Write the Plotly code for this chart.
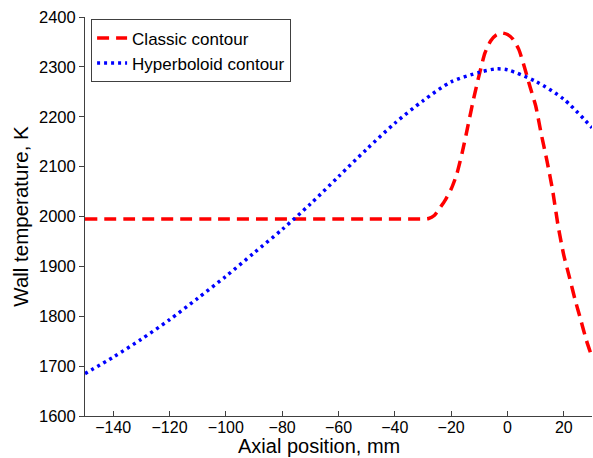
import plotly.graph_objects as go

# Classic contour data
classic_x = [-150, -100, -50, -30, -28, -26, -24, -22, -20, -18, -16, -14, -12, -10, -8, -6, -4, -2,
             0, 2, 4, 6, 8, 10, 12, 14, 16, 18, 20, 22, 24, 26, 28, 30]
classic_t = [1995, 1995, 1995, 1995, 1996, 2002, 2017, 2034, 2055, 2085, 2130, 2183, 2237, 2285, 2328, 2352, 2364, 2368,
             2365, 2355, 2335, 2300, 2260, 2222, 2165, 2112, 2053, 1980, 1922, 1878, 1833, 1793, 1752, 1718]

# Hyperboloid contour data
hyper_x = [-150, -140, -130, -120, -110, -100, -90, -80, -70, -60, -50, -40, -30, -20, -10, -4, 0, 10, 20, 30]
hyper_t = [1685, 1718, 1754, 1793, 1836, 1880, 1927, 1974, 2025, 2080, 2135, 2187, 2232, 2270, 2289, 2296, 2294, 2271, 2235, 2178]

x_ticks = [-140, -120, -100, -80, -60, -40, -20, 0, 20]
y_ticks = [1600, 1700, 1800, 1900, 2000, 2100, 2200, 2300, 2400]

FONT = "Liberation Sans, Arial, sans-serif"

fig = go.Figure()
fig.add_trace(go.Scatter(
    x=classic_x, y=classic_t, mode="lines", name="Classic contour",
    line=dict(color="#ff0000", width=3.5, dash="12px,7px", shape="spline", smoothing=0.6),
))
fig.add_trace(go.Scatter(
    x=hyper_x, y=hyper_t, mode="lines", name="Hyperboloid contour",
    line=dict(color="#0000ff", width=3.5, dash="3px,4px", shape="spline", smoothing=0.8),
))

fig.update_layout(
    width=593, height=458,
    margin=dict(l=85, r=1, t=17, b=42, autoexpand=False),
    paper_bgcolor="white", plot_bgcolor="white",
    font=dict(family=FONT, size=17, color="black"),
    showlegend=True,
    legend=dict(
        x=0.012, y=0.994, xanchor="left", yanchor="top",
        bgcolor="white", bordercolor="#404040", borderwidth=1,
        font=dict(family=FONT, size=17, color="black"),
        itemwidth=30, tracegroupgap=0,
    ),
    xaxis=dict(
        range=[-150, 30], tickvals=x_ticks,
        ticktext=[("\u2212" + str(-v)) if v < 0 else str(v) for v in x_ticks],
        showgrid=False, zeroline=False, showline=True, linecolor="#404040", linewidth=1,
        ticks="inside", ticklen=5, tickcolor="#404040",
        tickfont=dict(family=FONT, size=16), ticklabelstandoff=-3,
    ),
    yaxis=dict(
        range=[1600, 2400], tickvals=y_ticks,
        showgrid=False, zeroline=False, showline=True, linecolor="#404040", linewidth=1,
        ticks="outside", ticklen=5, tickcolor="#404040",
        tickfont=dict(family=FONT, size=16.5),
        title=dict(text="Wall temperature, K", font=dict(family=FONT, size=20.5), standoff=4),
    ),
    annotations=[dict(
        text="Axial position, mm", xref="paper", yref="paper",
        x=0.4616, y=-0.1053, xanchor="center", yanchor="bottom",
        showarrow=False, borderpad=0, font=dict(family=FONT, size=20),
    )],
)

fig.write_html("out.html")
